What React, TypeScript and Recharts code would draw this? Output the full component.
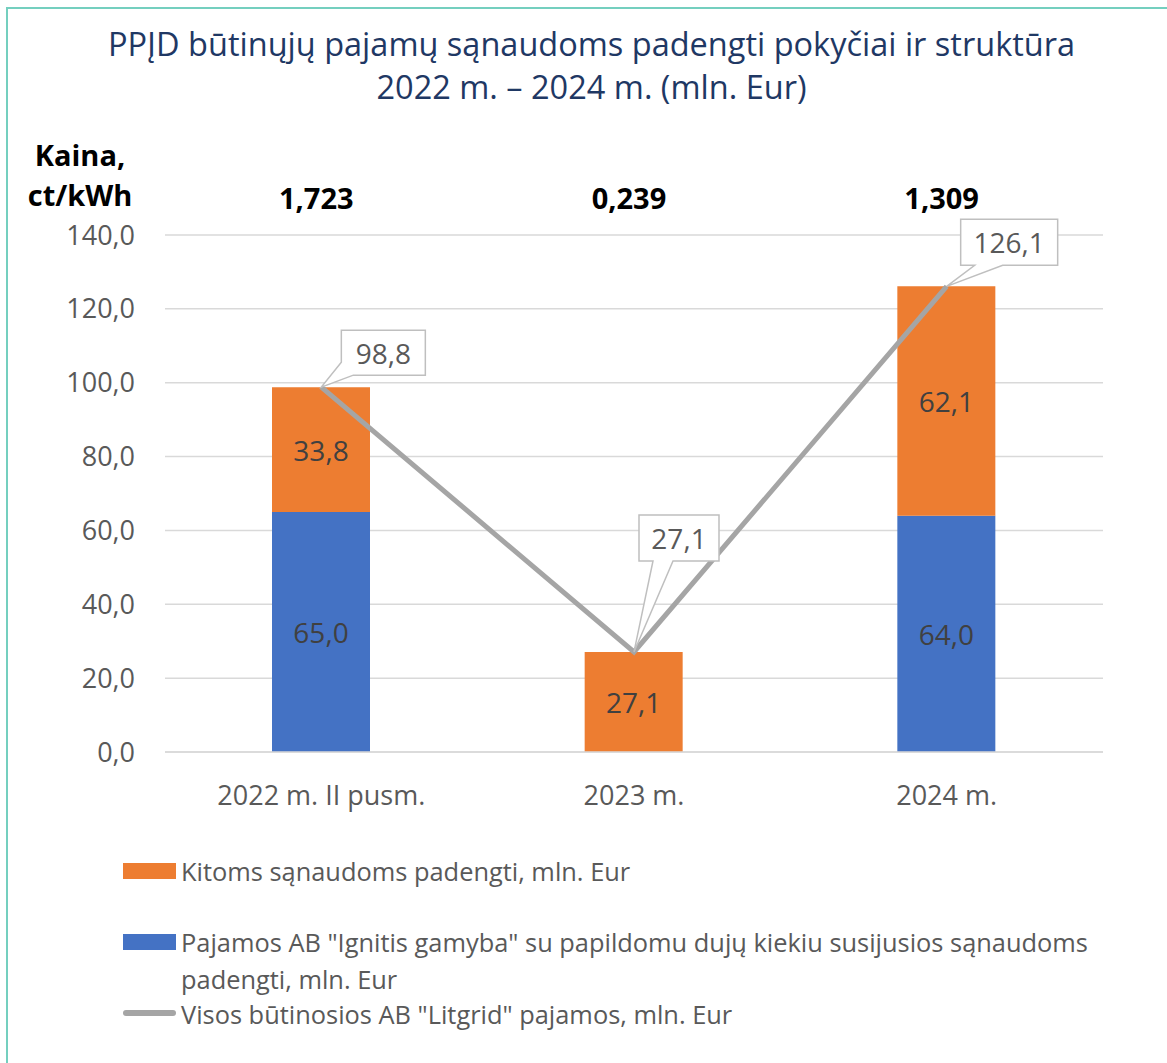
import { Bar, CartesianGrid, ComposedChart, LabelList, Line, XAxis, YAxis } from 'recharts'

const categories = ['2022 m. II pusm.', '2023 m.', '2024 m.']
const ignitisValues = [65.0, 0, 64.0]
const otherValues = [33.8, 27.1, 62.1]
const totalValues = [98.8, 27.1, 126.1]
const priceLabels = ['1,723', '0,239', '1,309']
const yTicks = [0, 20, 40, 60, 80, 100, 120, 140]

const seriesNames = {
  other: 'Kitoms sąnaudoms padengti, mln. Eur',
  ignitis: 'Pajamos AB "Ignitis gamyba" su papildomu dujų kiekiu susijusios sąnaudoms padengti, mln. Eur',
  total: 'Visos būtinosios AB "Litgrid" pajamos, mln. Eur',
}

const data = categories.map((name, i) => ({
  name,
  ignitis: ignitisValues[i],
  other: otherValues[i],
  total: totalValues[i],
  price: priceLabels[i],
}))

const ORANGE = '#ED7D31'
const BLUE = '#4472C4'
const GREY = '#A5A5A5'
const TEXT = '#595959'
const FONT = '"Open Sans", sans-serif'

const fmt = (v: number) => v.toFixed(1).replace('.', ',')

// callout boxes: box offset from the point, size, outline with the tip ('T')
const callouts = [
  { dx: 20, dy: -57, w: 84, h: 45, outline: [[0, 0], [84, 0], [84, 45], [12, 45], 'T', [0, 32]] },
  { dx: 5, dy: -137, w: 80, h: 46, outline: [[0, 0], [80, 0], [80, 46], [34, 46], 'T', [14, 46], [0, 46]] },
  { dx: 14, dy: -67, w: 97, h: 46, outline: [[0, 0], [97, 0], [97, 46], [42, 46], 'T', [14, 46], [0, 46]] },
]

function BarValue(props: any) {
  const { x, y, width, height, value } = props
  if (!value) return null
  return (
    <text
      x={x + width / 2}
      y={y + height / 2}
      textAnchor="middle"
      dominantBaseline="central"
      fill="#404040"
      fontSize={28}
      fontFamily={FONT}
    >
      {fmt(value)}
    </text>
  )
}

function Callout(props: any) {
  const { x, y, value, index } = props
  const c = callouts[index]
  if (!c) return null
  const bx = x + c.dx
  const by = y + c.dy
  const pts = c.outline
    .map((p: any) => (p === 'T' ? `${x},${y}` : `${bx + p[0]},${by + p[1]}`))
    .join(' ')
  return (
    <g>
      <polygon points={pts} fill="#fff" stroke="#BFBFBF" strokeWidth={1.5} />
      <text
        x={bx + c.w / 2}
        y={by + c.h / 2}
        textAnchor="middle"
        dominantBaseline="central"
        fill={TEXT}
        fontSize={28}
        fontFamily={FONT}
      >
        {fmt(value)}
      </text>
    </g>
  )
}

function PriceLabel(props: any) {
  const { x, value } = props
  return (
    <text x={x - 5} y={197} textAnchor="middle" dominantBaseline="central" fill="#000" fontSize={29} fontWeight={700} fontFamily={FONT}>
      {value}
    </text>
  )
}

export default function App() {
  return (
    <div style={{ position: 'absolute', left: 0, top: 0, width: 1167, height: 1063, background: '#fff', fontFamily: FONT }}>
      <div style={{ position: 'absolute', left: 6, top: 7, width: 1170, height: 1070, borderLeft: '2px solid #74CFBF', borderTop: '2px solid #74CFBF' }} />
      <div style={{ position: 'absolute', left: 0, top: 22, width: 1183, textAlign: 'center', color: '#1F3864', fontSize: 32.5, lineHeight: '43px' }}>
        PPĮD būtinųjų pajamų sąnaudoms padengti pokyčiai ir struktūra
        <br />
        2022 m. – 2024 m. (mln. Eur)
      </div>
      <div style={{ position: 'absolute', left: 20, top: 135, width: 120, textAlign: 'center', color: '#000', fontSize: 29, fontWeight: 700, lineHeight: '40px' }}>
        Kaina,
        <br />
        ct/kWh
      </div>
      <div style={{ position: 'absolute', left: 0, top: 0 }}>
        <ComposedChart width={1167} height={1063} data={data} margin={{ top: 235, right: 64, bottom: 251, left: 65 }}>
          <CartesianGrid vertical={false} stroke="#D9D9D9" strokeWidth={1.5} />
          <XAxis
            dataKey="name"
            height={60}
            axisLine={{ stroke: '#D9D9D9', strokeWidth: 1.5 }}
            tickLine={false}
            tickSize={0}
            tickMargin={34}
            tick={{ fill: TEXT, fontSize: 27, fontFamily: FONT }}
          />
          <YAxis
            width={100}
            domain={[0, 140]}
            ticks={yTicks}
            axisLine={false}
            tickLine={false}
            tickSize={0}
            tickMargin={30}
            tickFormatter={fmt}
            tick={{ fill: TEXT, fontSize: 27, fontFamily: FONT }}
          />
          <Bar dataKey="ignitis" name={seriesNames.ignitis} stackId="a" fill={BLUE} barSize={98} isAnimationActive={false}>
            <LabelList dataKey="ignitis" content={BarValue} />
          </Bar>
          <Bar dataKey="other" name={seriesNames.other} stackId="a" fill={ORANGE} barSize={98} isAnimationActive={false}>
            <LabelList dataKey="other" content={BarValue} />
          </Bar>
          <Line
            dataKey="total"
            name={seriesNames.total}
            type="linear"
            stroke={GREY}
            strokeWidth={5}
            dot={false}
            activeDot={false}
            isAnimationActive={false}
          >
            <LabelList dataKey="total" content={Callout} />
            <LabelList dataKey="price" content={PriceLabel} />
          </Line>
        </ComposedChart>
      </div>
      <div style={{ position: 'absolute', left: 123, top: 850, width: 990, color: TEXT, fontSize: 25.4, lineHeight: '37px' }}>
        <div style={{ position: 'absolute', top: 13, width: 53, height: 16, background: ORANGE }} />
        <div style={{ position: 'absolute', left: 58, top: 3, whiteSpace: 'nowrap' }}>{seriesNames.other}</div>
        <div style={{ position: 'absolute', top: 84, width: 53, height: 16, background: BLUE }} />
        <div style={{ position: 'absolute', left: 58, top: 74, width: 925 }}>{seriesNames.ignitis}</div>
        <div style={{ position: 'absolute', top: 160, width: 53, height: 6, borderRadius: 3, background: GREY }} />
        <div style={{ position: 'absolute', left: 58, top: 146, whiteSpace: 'nowrap' }}>{seriesNames.total}</div>
      </div>
    </div>
  )
}
